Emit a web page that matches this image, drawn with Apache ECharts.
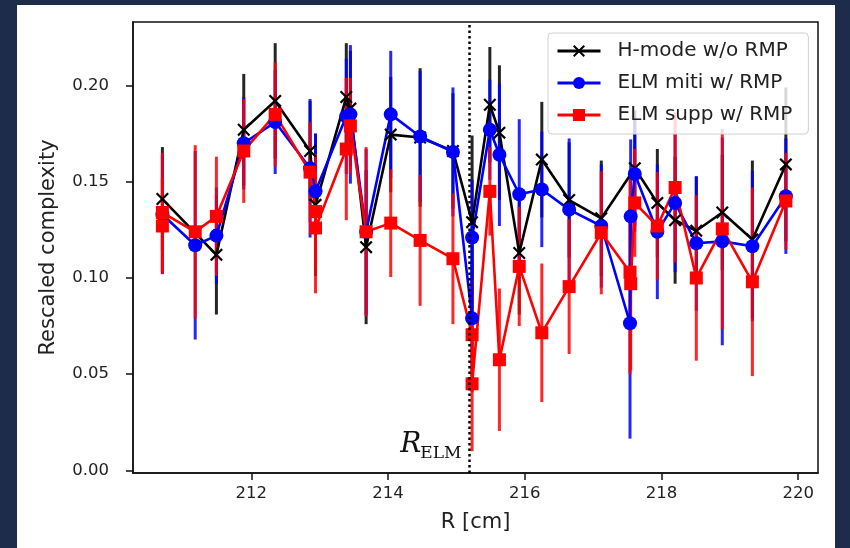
<!DOCTYPE html>
<html><head><meta charset="utf-8">
<script src="https://cdn.jsdelivr.net/npm/echarts@6/dist/echarts.min.js"></script>
<style>html,body{margin:0;padding:0;background:#1c2c4a;}#c{width:850px;height:548px;}</style>
</head><body><div id="c"></div>
<script>
// ---- data ----
const seriesNames = ['H-mode w/o RMP', 'ELM miti w/ RMP', 'ELM supp w/ RMP'];

const hX = [210.70, 211.49, 211.89, 212.35, 212.86, 212.94, 213.39, 213.45, 213.68, 214.04, 214.47, 214.95, 215.23, 215.49, 215.63, 215.92, 216.25, 216.65, 217.12, 217.61, 217.94, 218.20, 218.51, 218.89, 219.33, 219.82];
const hY = [0.141, 0.112, 0.177, 0.192, 0.166, 0.138, 0.194, 0.188, 0.116, 0.1745, 0.173, 0.166, 0.129, 0.190, 0.1755, 0.113, 0.1615, 0.1405, 0.131, 0.157, 0.139, 0.130, 0.1245, 0.134, 0.120, 0.159];
const hE = [0.027, 0.031, 0.029, 0.030, 0.026, 0.037, 0.028, 0.030, 0.040, 0.030, 0.036, 0.030, 0.045, 0.030, 0.035, 0.032, 0.030, 0.030, 0.030, 0.030, 0.028, 0.033, 0.028, 0.030, 0.041, 0.040];

const mX = [210.70, 211.18, 211.49, 211.89, 212.35, 212.86, 212.94, 213.39, 213.45, 213.68, 214.04, 214.47, 214.95, 215.23, 215.23, 215.49, 215.63, 215.92, 216.25, 216.65, 217.12, 217.54, 217.55, 217.61, 217.94, 218.20, 218.51, 218.89, 219.33, 219.82];
const mY = [0.133, 0.117, 0.122, 0.170, 0.181, 0.157, 0.145, 0.184, 0.185, 0.124, 0.185, 0.1735, 0.1655, 0.079, 0.121, 0.177, 0.164, 0.1435, 0.146, 0.1355, 0.127, 0.0765, 0.132, 0.154, 0.124, 0.139, 0.118, 0.119, 0.1165, 0.1425];
const mE = [0.031, 0.049, 0.025, 0.024, 0.027, 0.036, 0.030, 0.030, 0.036, 0.043, 0.033, 0.034, 0.0335, 0.030, 0.030, 0.026, 0.037, 0.039, 0.030, 0.037, 0.032, 0.060, 0.040, 0.030, 0.035, 0.036, 0.035, 0.054, 0.039, 0.030];

const sX = [210.70, 210.70, 211.18, 211.49, 211.89, 212.35, 212.86, 212.94, 212.94, 213.39, 213.45, 213.68, 214.04, 214.47, 214.95, 215.23, 215.23, 215.49, 215.63, 215.92, 216.25, 216.65, 217.12, 217.54, 217.55, 217.61, 217.94, 218.20, 218.51, 218.89, 219.33, 219.82];
const sY = [0.127, 0.134, 0.124, 0.132, 0.166, 0.185, 0.155, 0.1345, 0.126, 0.167, 0.179, 0.124, 0.1285, 0.1195, 0.110, 0.0705, 0.045, 0.145, 0.0575, 0.106, 0.0715, 0.0955, 0.1235, 0.103, 0.097, 0.139, 0.127, 0.147, 0.100, 0.1255, 0.098, 0.140];
const sE = [0.025, 0.031, 0.045, 0.031, 0.027, 0.027, 0.026, 0.030, 0.034, 0.037, 0.025, 0.044, 0.028, 0.034, 0.034, 0.030, 0.035, 0.023, 0.037, 0.031, 0.036, 0.035, 0.032, 0.053, 0.045, 0.028, 0.028, 0.039, 0.043, 0.052, 0.049, 0.025];

const xTicks = [212, 214, 216, 218, 220];
const yTicks = [0.00, 0.05, 0.10, 0.15, 0.20];
const rElm = 215.19;

// ---- build ----
const pts = (xs, ys) => xs.map((x, i) => [x, ys[i]]);
const errs = (xs, ys, es) => xs.map((x, i) => [x, ys[i] - es[i], ys[i] + es[i]]);
const xSym = 'path://M1.2,0 L5,3.8 L8.8,0 L10,1.2 L6.2,5 L10,8.8 L8.8,10 L5,6.2 L1.2,10 L0,8.8 L3.8,5 L0,1.2 Z';

function errSeries(data, color) {
  return {
    type: 'custom', data: data, silent: true, clip: true,
    encode: { x: 0, y: [1, 2] },
    renderItem: function (params, api) {
      const a = api.coord([api.value(0), api.value(1)]);
      const b = api.coord([api.value(0), api.value(2)]);
      return { type: 'line', shape: { x1: a[0], y1: a[1], x2: b[0], y2: b[1] },
        style: { stroke: color, lineWidth: 3, opacity: 0.85 } };
    }
  };
}
function lineSeries(name, data, color, symbol, size, extra) {
  return Object.assign({
    type: 'line', name: name, data: data, symbol: symbol, symbolSize: size,
    showAllSymbol: true, lineStyle: { color: color, width: 2.6 },
    itemStyle: { color: color }, emphasis: { disabled: true }, silent: true
  }, extra || {});
}

const font = 'DejaVu Sans';
const chart = echarts.init(document.getElementById('c'), null, { renderer: 'canvas' });
const option = {
  animation: false,
  backgroundColor: '#1c2c4a',
  graphic: [{ id: 'panel', type: 'rect', z: -100, shape: { x: 17, y: 5, width: 818, height: 543 }, style: { fill: '#ffffff' } }],
  grid: { left: 133, right: 32, top: 22, bottom: 75, show: true, borderColor: '#111', borderWidth: 1.5, backgroundColor: 'transparent' },
  legend: {
    data: seriesNames, orient: 'vertical', left: 548, top: 33,
    itemWidth: 43, itemHeight: 15, itemGap: 12,
    padding: [8, 16, 9, 8],
    lineStyle: { width: 3 },
    backgroundColor: 'rgba(255,255,255,0.82)', borderColor: '#d0d0d0', borderWidth: 1, borderRadius: 4,
    textStyle: { fontFamily: font, fontSize: 20, color: '#222', padding: [0, 0, 0, 12] },
    selectedMode: false
  },
  xAxis: {
    type: 'value', min: 210.27, max: 220.29,
    name: 'R [cm]', nameLocation: 'middle', nameGap: 39,
    nameTextStyle: { fontFamily: font, fontSize: 21, color: '#222' },
    axisLine: { show: true, onZero: false, lineStyle: { color: '#111', width: 1.5 } },
    axisTick: { show: true, customValues: xTicks, length: 7, lineStyle: { color: '#111', width: 1.5 } },
    axisLabel: { customValues: xTicks, fontFamily: font, fontSize: 16.5, color: '#222', margin: 12 },
    splitLine: { show: false }
  },
  yAxis: {
    type: 'value', min: -0.00135, max: 0.233,
    name: 'Rescaled complexity', nameLocation: 'middle', nameGap: 74,
    nameTextStyle: { fontFamily: font, fontSize: 21, color: '#222' },
    axisLine: { show: true, onZero: false, lineStyle: { color: '#111', width: 1.5 } },
    axisTick: { show: true, customValues: yTicks, length: 7, lineStyle: { color: '#111', width: 1.5 } },
    axisLabel: { customValues: yTicks, fontFamily: font, fontSize: 16.5, color: '#222', margin: 24,
      formatter: v => Number(v).toFixed(2) },
    splitLine: { show: false }
  },
  series: [
    errSeries(errs(hX, hY, hE), '#000000'),
    lineSeries(seriesNames[0], pts(hX, hY), '#000000', xSym, 13, {
      markLine: { silent: true, symbol: 'none', label: { show: false },
        lineStyle: { type: [2.5, 3], color: '#000', width: 2.5 },
        data: [{ xAxis: rElm }] }
    }),
    errSeries(errs(mX, mY, mE), '#0000ff'),
    lineSeries(seriesNames[1], pts(mX, mY), '#0000ff', 'circle', 14),
    errSeries(errs(sX, sY, sE), '#ff0000'),
    lineSeries(seriesNames[2], pts(sX, sY), '#ff0000', 'rect', 13)
  ]
};
chart.setOption(option);

// R_ELM annotation placed relative to the dotted line
const p = chart.convertToPixel({ gridIndex: 0 }, [rElm, 0]);
chart.setOption({
  graphic: [
    { id: 'panel', type: 'rect', z: -100, shape: { x: 17, y: 5, width: 818, height: 543 }, style: { fill: '#ffffff' } },
    { id: 'relmR', type: 'text', z: 50, style: { x: p[0] - 48, y: p[1] - 12, text: 'R', font: 'italic 28px "DejaVu Serif"', fill: '#111', textAlign: 'right', textVerticalAlign: 'bottom' } },
    { id: 'relmS', type: 'text', z: 50, style: { x: p[0] - 49, y: p[1] - 8, text: 'ELM', font: '17px "DejaVu Serif"', fill: '#111', textAlign: 'left', textVerticalAlign: 'bottom' } }
  ]
});
</script>
</body></html>
